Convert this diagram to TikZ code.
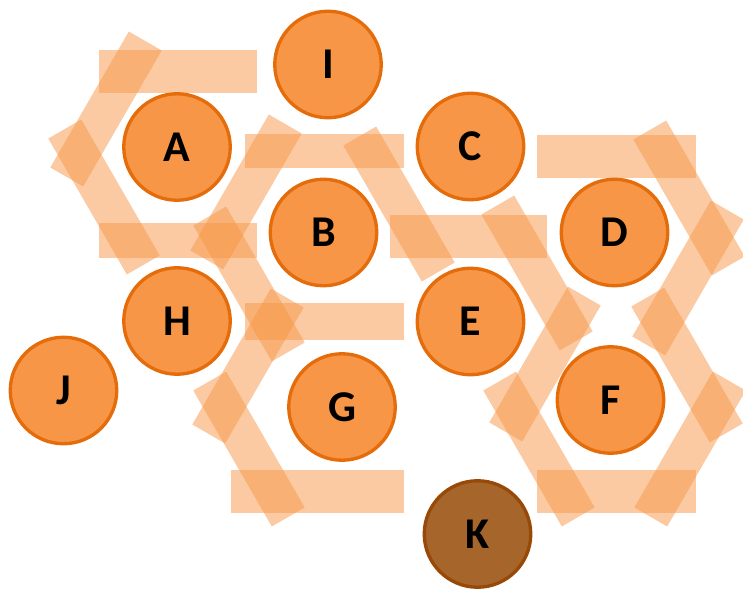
\documentclass[tikz,border=0pt]{standalone}
\usepackage{fontspec}
\setsansfont{Carlito}
\usepackage{tikz}
\usetikzlibrary{positioning}

\definecolor{cellfill}{HTML}{F79646}
\definecolor{celldraw}{HTML}{E46C0A}
\definecolor{oddfill}{HTML}{A6652B}
\definecolor{odddraw}{HTML}{984807}

\tikzset{
  cell/.style={
    circle,
    draw=celldraw,
    fill=cellfill,
    line width=1.9pt,
    minimum size=2.13cm,
    inner sep=0pt,
    font=\fontsize{25}{29}\selectfont\sffamily\bfseries
  }
}
\tikzset{
  odd cell/.style={
    cell,
    draw=odddraw,
    fill=oddfill
  }
}
\tikzset{
  strip/.style={
    fill=cellfill,
    fill opacity=0.5
  }
}
\newcommand{\tiltstrip}[3]{%
  \fill[strip,shift={(#1,#2)},rotate=#3] (-78.5,-19) rectangle (78.5,19);%
}

\begin{document}
\begin{tikzpicture}[x=0.02cm,y=-0.02cm]

    \useasboundingbox (0,0) rectangle (743,590);

    % ------------------------------------------------------------
    % Strips
    % ------------------------------------------------------------

    \fill[strip] (99,50)   rectangle (257,93);
    \fill[strip] (245,134) rectangle (404,168);
    \fill[strip] (99,223)  rectangle (257,258);
    \fill[strip] (390,215) rectangle (547,258);
    \fill[strip] (537,135) rectangle (696,178);
    \fill[strip] (245,303) rectangle (404,340);
    \fill[strip] (231,470) rectangle (404,513);
    \fill[strip] (537,470) rectangle (696,513);

    \tiltstrip{106}{109}{60}
    \tiltstrip{104}{197}{-60}
    \tiltstrip{246}{192}{60}
    \tiltstrip{249}{284}{-60}
    \tiltstrip{248}{366}{60}
    \tiltstrip{249}{449}{-60}
    \tiltstrip{399}{204}{-60}
    \tiltstrip{537}{273}{-60}
    \tiltstrip{545}{364}{60}
    \tiltstrip{539}{449}{-60}
    \tiltstrip{689}{198}{-60}
    \tiltstrip{688}{278}{60}
    \tiltstrip{687}{365}{-60}
    \tiltstrip{690}{449}{60}

    % ------------------------------------------------------------
    % Cells
    % ------------------------------------------------------------

    \node[cell] (I) at (328,64.5) {I};
    \node[cell] (A) at (177,147) {A};
    \node[cell] (C) at (470.5,146.5) {C};
    \node[cell] (B) at (323.5,232.5) {B};
    \node[cell] (D) at (614.5,232.5) {D};
    \node[cell] (H) at (177,321) {H};
    \node[cell] (E) at (470.5,321.5) {E};
    \node[cell] (J) at (63.5,390.5) {J};
    \node[cell] (G) at (342,407) {G};
    \node[cell] (F) at (610.5,400) {F};
    \node[odd cell] (K) at (477.5,534) {K};

\end{tikzpicture}
\end{document}
